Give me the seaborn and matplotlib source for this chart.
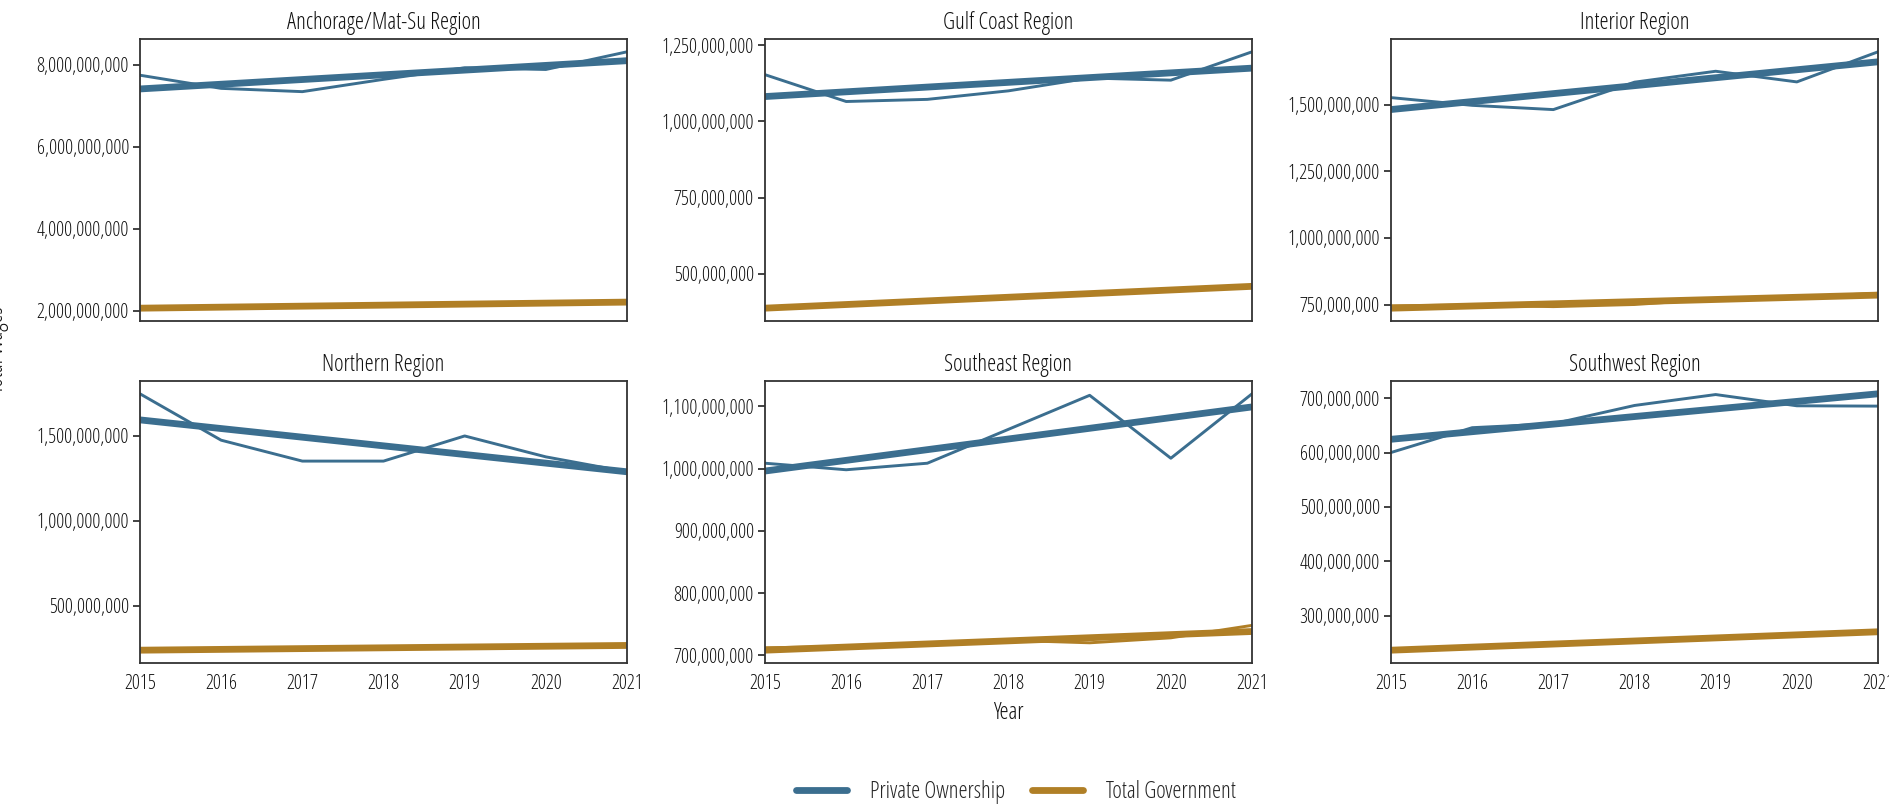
import numpy as np
import pandas as pd
import seaborn as sns
import matplotlib
matplotlib.use("Agg")
import matplotlib.pyplot as plt
from matplotlib import font_manager
from matplotlib.ticker import MultipleLocator, FuncFormatter
from matplotlib.lines import Line2D

# ---------------- data ----------------
years = [2015, 2016, 2017, 2018, 2019, 2020, 2021]
regions = ["Anchorage/Mat-Su Region", "Gulf Coast Region", "Interior Region",
           "Northern Region", "Southeast Region", "Southwest Region"]
series_names = ["Private Ownership", "Total Government"]

private_anchorage = [7.74e9, 7.42e9, 7.34e9, 7.64e9, 7.92e9, 7.88e9, 8.31e9]
govt_anchorage = [2.07e9, 2.09e9, 2.12e9, 2.14e9, 2.16e9, 2.19e9, 2.22e9]
private_gulf = [1.153e9, 1.065e9, 1.072e9, 1.100e9, 1.142e9, 1.135e9, 1.228e9]
govt_gulf = [387e6, 399e6, 411e6, 422e6, 436e6, 447e6, 458e6]
private_interior = [1.527e9, 1.498e9, 1.482e9, 1.585e9, 1.626e9, 1.586e9, 1.699e9]
govt_interior = [745e6, 748e6, 742e6, 750e6, 770e6, 778e6, 792e6]
private_northern = [1.748e9, 1.475e9, 1.352e9, 1.352e9, 1.500e9, 1.377e9, 1.289e9]
govt_northern = [240e6, 244e6, 248e6, 252e6, 258e6, 262e6, 268e6]
private_southeast = [1.0085e9, 0.998e9, 1.0085e9, 1.063e9, 1.1176e9, 1.0165e9, 1.120e9]
govt_southeast = [712e6, 714e6, 716e6, 724e6, 720e6, 728e6, 748e6]
private_southwest = [600e6, 645.7e6, 653e6, 686.6e6, 706.7e6, 686e6, 685.4e6]
govt_southwest = [237e6, 243e6, 247e6, 251e6, 258e6, 264e6, 272e6]

private_values = [private_anchorage, private_gulf, private_interior,
                  private_northern, private_southeast, private_southwest]
govt_values = [govt_anchorage, govt_gulf, govt_interior,
               govt_northern, govt_southeast, govt_southwest]

# y tick spacing per facet
tick_steps = [2e9, 250e6, 250e6, 500e6, 100e6, 100e6]

rows = []
for reg, pv, gv in zip(regions, private_values, govt_values):
    for y, v in zip(years, pv):
        rows.append((reg, "Private Ownership", y, v))
    for y, v in zip(years, gv):
        rows.append((reg, "Total Government", y, v))
df = pd.DataFrame(rows, columns=["Region", "Type", "Year", "Wages"])

# ---------------- style ----------------
sns.set_theme(style="white")

# prefer a narrow / condensed sans font if one is installed
ttf = font_manager.fontManager.ttflist
names = {f.name for f in ttf}
family = "Liberation Sans"
stretch = "normal"
tick_fs, title_fs = 12.8, 12.5
if "Liberation Sans Narrow" in names:
    family, tick_fs, title_fs = "Liberation Sans Narrow", 14, 14
else:
    for fam in ["Roboto", "Open Sans", "Noto Sans", "DejaVu Sans"]:
        if any(f.name == fam and f.stretch in ("condensed", "semi-condensed", 75, 87.5)
               and f.style == "normal" for f in ttf):
            family, stretch, tick_fs, title_fs = fam, "condensed", 14.3, 16.5
            break
plt.rcParams["font.family"] = [family, "DejaVu Sans"]
plt.rcParams["font.stretch"] = stretch
plt.rcParams["font.weight"] = "normal"

palette = {"Private Ownership": "#3b6e8f", "Total Government": "#b07f26"}
text_color = "#111111"

W, H = 1890, 806
fig = plt.figure(figsize=(W / 100, H / 100), dpi=100)
fig.patch.set_facecolor("white")

col_left = [140, 765, 1391]
ax_w = 487
row_top = [39, 381]
ax_h = 282

fmt = FuncFormatter(lambda v, p: f"{v:,.0f}")

for i, reg in enumerate(regions):
    r, c = divmod(i, 3)
    left = col_left[c] / W
    bottom = (H - row_top[r] - ax_h) / H
    ax = fig.add_axes([left, bottom, ax_w / W, ax_h / H])
    sub = df[df["Region"] == reg]
    sns.lineplot(data=sub, x="Year", y="Wages", hue="Type", palette=palette,
                 linewidth=2.1, legend=False, ax=ax)
    for s in series_names:
        sns.regplot(data=sub[sub["Type"] == s], x="Year", y="Wages", ci=None,
                    scatter=False, truncate=True, color=palette[s],
                    line_kws={"linewidth": 4.9, "solid_capstyle": "butt"}, ax=ax)
    ax.set_xlim(2015, 2021)
    ax.margins(y=0.05)
    ax.autoscale(axis="y")
    ax.yaxis.set_major_locator(MultipleLocator(tick_steps[i]))
    ax.yaxis.set_major_formatter(fmt)
    ax.set_xticks(years)
    ax.set_title(reg, fontsize=title_fs, color=text_color, pad=7)
    ax.set_ylabel("")
    ax.set_xlabel("Year" if i == 4 else "", fontsize=title_fs, color=text_color, labelpad=5)
    if r == 0:
        ax.set_xticklabels([])
        ax.tick_params(axis="x", length=0)
    else:
        ax.tick_params(axis="x", length=5, width=1.3, color="#333333",
                       labelsize=tick_fs, labelcolor=text_color, pad=3)
    ax.tick_params(axis="y", length=5, width=1.3, color="#333333",
                   labelsize=tick_fs, labelcolor=text_color, pad=3, left=True)
    for sp in ax.spines.values():
        sp.set_visible(True)
        sp.set_color("#333333")
        sp.set_linewidth(1.3)
    ax.grid(False)
    ax.set_facecolor("white")

fig.text(9 / W, 1 - 350 / H, "Total Wages", rotation=90, ha="right", va="center",
         fontsize=title_fs, color=text_color)

handles = [Line2D([0], [0], color=palette[s], linewidth=4.9) for s in series_names]
fig.legend(handles, series_names, loc="center", bbox_to_anchor=(1016 / W, 1 - 792 / H),
           ncol=2, frameon=False, fontsize=title_fs, handlelength=2.2,
           columnspacing=1.2, handletextpad=1.0)

fig.savefig("out.png", dpi=100, facecolor="white")
